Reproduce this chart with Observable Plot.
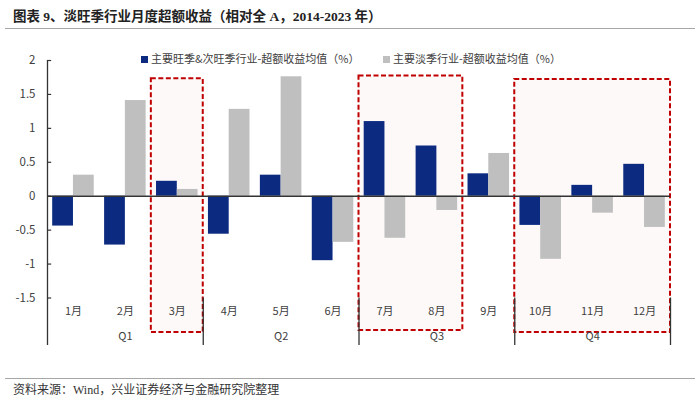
<!DOCTYPE html>
<html><head><meta charset="utf-8">
<script src="https://cdn.jsdelivr.net/npm/d3@7"></script>
<script src="https://cdn.jsdelivr.net/npm/@observablehq/plot@0.6"></script>
<style>
body{margin:0;background:#fff;}
#wrap{position:relative;width:700px;height:401px;overflow:hidden;font-family:"Noto Sans CJK SC",sans-serif;}
#title{position:absolute;left:13px;top:5px;font-weight:bold;font-size:13.5px;font-family:"Liberation Serif","Noto Sans CJK SC",serif;color:#222;white-space:nowrap;}
#tline{position:absolute;left:5px;width:690px;top:28px;height:0;border-top:1.5px solid #a6a6a6;}
#chart{position:absolute;top:30px;left:0;}
.leg{position:absolute;top:50px;font-size:11px;color:#404040;white-space:nowrap;line-height:16px;}
.sw{display:inline-block;width:7px;height:7px;margin-right:3px;vertical-align:0px;}
#cline{position:absolute;left:5px;width:690px;top:378px;height:0;border-top:1.5px solid #a6a6a6;}
#caption{position:absolute;left:13px;top:380px;font-size:12px;font-family:"Liberation Serif","Noto Sans CJK SC",serif;color:#333;white-space:nowrap;}
</style></head>
<body>
<div id="wrap">
  <div id="title"></div>
  <div id="tline"></div>
  <div id="chart"></div>
  <div id="leg1" class="leg"></div>
  <div id="leg2" class="leg"></div>
  <div id="cline"></div>
  <div id="caption"></div>
</div>
<script>
const titleText = "图表 9、淡旺季行业月度超额收益（相对全 A，2014-2023 年）";
const captionText = "资料来源：Wind，兴业证券经济与金融研究院整理";
const seriesNames = ["主要旺季&次旺季行业-超额收益均值（%）", "主要淡季行业-超额收益均值（%）"];
const months = ["1月","2月","3月","4月","5月","6月","7月","8月","9月","10月","11月","12月"];
const quarters = ["Q1","Q2","Q3","Q4"];
const peakValues = [-0.44, -0.72, 0.22, -0.56, 0.31, -0.95, 1.10, 0.74, 0.33, -0.43, 0.16, 0.47];
const offValues  = [0.31, 1.41, 0.10, 1.28, 1.76, -0.68, -0.62, -0.21, 0.63, -0.93, -0.25, -0.46];
const yTicks = [2, 1.5, 1, 0.5, 0, -0.5, -1, -1.5];
const highlightFrom = [2, 6, 9];
const highlightTo = [3, 8, 12];
const highlightTop = [1.73, 1.77, 1.72];
const highlightBottom = [-2.01, -1.98, -2.01];

const BLUE = "#0b2a80", GRAY = "#bfbfbf", AXIS = "#333333", RED = "#c00000";

document.getElementById("title").textContent = titleText;
document.getElementById("caption").textContent = captionText;
const l1 = document.getElementById("leg1"), l2 = document.getElementById("leg2");
l1.style.left = "141px"; l2.style.left = "383px";
l1.innerHTML = `<span class="sw" style="background:${BLUE}"></span>` + seriesNames[0];
l2.innerHTML = `<span class="sw" style="background:${GRAY}"></span>` + seriesNames[1];

const data = months.map((m, i) => ({i, month: m, peak: peakValues[i], off: offValues[i]}));
const boxes = highlightFrom.map((f, k) => ({x1: f, x2: highlightTo[k], y1: highlightBottom[k], y2: highlightTop[k]}));
const qData = quarters.map((q, k) => ({q, k}));
const yMin = -2.2, yMax = 2;

const chart = Plot.plot({
  width: 700, height: 330,
  marginTop: 30, marginBottom: 15, marginLeft: 47, marginRight: 30,
  x: {domain: [0, 12], axis: null},
  y: {domain: [yMin, yMax], axis: null},
  style: {fontFamily: '"Noto Sans CJK SC", sans-serif', fontSize: "11px", color: "#404040", background: "transparent"},
  marks: [
    Plot.rect(boxes, {x1: "x1", x2: "x2", y1: "y1", y2: "y2", fill: "#fdf9f9", stroke: RED, strokeWidth: 2, strokeDasharray: "5,2.5"}),
    Plot.rectY(data, {x1: d => d.i + 0.1, x2: d => d.i + 0.5, y1: 0, y2: "peak", fill: BLUE}),
    Plot.rectY(data, {x1: d => d.i + 0.5, x2: d => d.i + 0.9, y1: 0, y2: "off", fill: GRAY}),
    Plot.ruleY([0], {x1: 0, x2: 12, stroke: AXIS, strokeWidth: 1.5}),
    Plot.ruleX([0], {y1: yMin, y2: yMax, stroke: AXIS, strokeWidth: 1.3}),
    Plot.ruleX([3, 6, 9, 12], {y1: -1.5, y2: yMin, stroke: AXIS, strokeWidth: 1.3}),
    Plot.ruleY(yTicks, {x1: 0, x2: 0.08, stroke: AXIS, strokeWidth: 1.2}),
    Plot.text(yTicks, {x: 0, y: d => d, text: d => String(d), textAnchor: "end", dx: -12, fontSize: 11.5, fill: "#404040"}),
    Plot.text(data, {x: d => d.i + 0.5, text: "month", frameAnchor: "bottom", dy: -31, fontSize: 11, fill: "#404040"}),
    Plot.text(qData, {x: d => d.k * 3 + 1.5, text: "q", frameAnchor: "bottom", dy: -6, fontSize: 11, fill: "#404040"})
  ]
});
document.getElementById("chart").appendChild(chart);
</script>
</body></html>
